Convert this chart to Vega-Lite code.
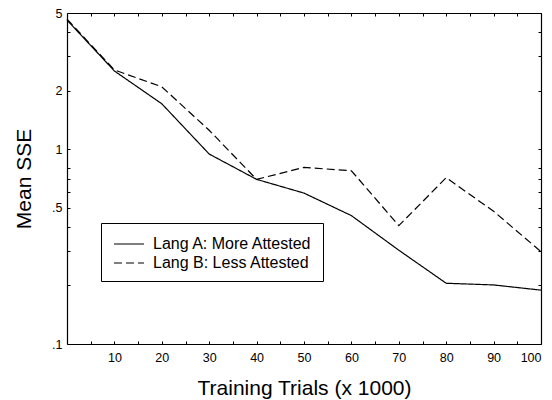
{
  "$schema": "https://vega.github.io/schema/vega-lite/v6.json",
  "autosize": {"type": "none"},
  "width": 474,
  "height": 331,
  "padding": {"left": 67, "top": 13, "right": 11, "bottom": 56},
  "background": "white",
  "config": {
    "view": {"stroke": null},
    "font": "Liberation Sans",
    "axis": {
      "grid": false,
      "domainColor": "black",
      "domainWidth": 1.2,
      "tickColor": "black",
      "tickSize": -3,
      "labelColor": "black",
      "titleColor": "black",
      "labelFont": "Liberation Sans",
      "titleFont": "Liberation Sans",
      "labelFontSize": 12.5,
      "titleFontSize": 21,
      "titleFontWeight": "normal"
    }
  },
  "data": {
    "values": [
      {"x": 0, "y": 4.6, "lang": "Lang A: More Attested"},
      {"x": 10, "y": 2.52, "lang": "Lang A: More Attested"},
      {"x": 20, "y": 1.71, "lang": "Lang A: More Attested"},
      {"x": 30, "y": 0.944, "lang": "Lang A: More Attested"},
      {"x": 40, "y": 0.7, "lang": "Lang A: More Attested"},
      {"x": 50, "y": 0.595, "lang": "Lang A: More Attested"},
      {"x": 60, "y": 0.456, "lang": "Lang A: More Attested"},
      {"x": 70, "y": 0.303, "lang": "Lang A: More Attested"},
      {"x": 80, "y": 0.205, "lang": "Lang A: More Attested"},
      {"x": 90, "y": 0.201, "lang": "Lang A: More Attested"},
      {"x": 100, "y": 0.189, "lang": "Lang A: More Attested"},
      {"x": 0, "y": 4.65, "lang": "Lang B: Less Attested"},
      {"x": 10, "y": 2.55, "lang": "Lang B: Less Attested"},
      {"x": 20, "y": 2.09, "lang": "Lang B: Less Attested"},
      {"x": 30, "y": 1.25, "lang": "Lang B: Less Attested"},
      {"x": 40, "y": 0.7, "lang": "Lang B: Less Attested"},
      {"x": 50, "y": 0.806, "lang": "Lang B: Less Attested"},
      {"x": 60, "y": 0.775, "lang": "Lang B: Less Attested"},
      {"x": 70, "y": 0.405, "lang": "Lang B: Less Attested"},
      {"x": 80, "y": 0.714, "lang": "Lang B: Less Attested"},
      {"x": 90, "y": 0.48, "lang": "Lang B: Less Attested"},
      {"x": 100, "y": 0.298, "lang": "Lang B: Less Attested"}
    ]
  },
  "layer": [
    {
      "mark": {"type": "line", "color": "black", "strokeWidth": 1.2},
      "encoding": {
        "x": {
          "field": "x", "type": "quantitative",
          "scale": {"domain": [0, 100], "nice": false, "zero": false},
          "axis": {
            "orient": "bottom",
            "title": "Training Trials (x 1000)",
            "values": [5, 10, 15, 20, 25, 30, 35, 40, 45, 50, 55, 60, 65, 70, 75, 80, 85, 90, 95, 100],
            "labelExpr": "datum.value % 10 == 0 ? datum.label : ''",
            "labelPadding": 10,
            "titlePadding": 14
          }
        },
        "y": {
          "field": "y", "type": "quantitative",
          "scale": {"type": "log", "domain": [0.1, 5], "nice": false},
          "axis": {
            "orient": "left",
            "title": "Mean SSE",
            "values": [0.1, 0.2, 0.3, 0.4, 0.5, 0.6, 0.7, 0.8, 1, 2, 3, 4, 5],
            "labelExpr": "datum.value == 0.1 ? '.1' : datum.value == 0.5 ? '.5' : datum.value == 1 ? '1' : datum.value == 2 ? '2' : datum.value == 5 ? '5' : ''",
            "labelPadding": 8,
            "titlePadding": 17
          }
        },
        "strokeDash": {
          "field": "lang", "type": "nominal",
          "scale": {"domain": ["Lang A: More Attested", "Lang B: Less Attested"], "range": [[1, 0], [8, 4]]},
          "legend": {
            "orient": "none",
            "legendX": 34,
            "legendY": 210,
            "title": null,
            "strokeColor": "black",
            "fillColor": "white",
            "padding": 10,
            "cornerRadius": 0,
            "labelFont": "Liberation Sans",
            "labelFontSize": 16,
            "labelColor": "black",
            "labelOffset": 20,
            "symbolType": "M-0.8,0H2.2",
            "symbolSize": 400,
            "symbolStrokeColor": "black",
            "symbolStrokeWidth": 1.2,
            "rowPadding": 0
          }
        }
      }
    },
    {
      "mark": {"type": "line", "opacity": 0},
      "encoding": {
        "x": {
          "field": "x", "type": "quantitative",
          "axis": {
            "orient": "top", "title": null, "labels": false,
            "values": [5, 10, 15, 20, 25, 30, 35, 40, 45, 50, 55, 60, 65, 70, 75, 80, 85, 90, 95, 100]
          }
        },
        "y": {
          "field": "y", "type": "quantitative",
          "axis": {
            "orient": "right", "title": null, "labels": false,
            "values": [0.1, 0.2, 0.3, 0.4, 0.5, 0.6, 0.7, 0.8, 1, 2, 3, 4, 5]
          }
        },
        "detail": {"field": "lang", "type": "nominal"}
      }
    }
  ]
}
